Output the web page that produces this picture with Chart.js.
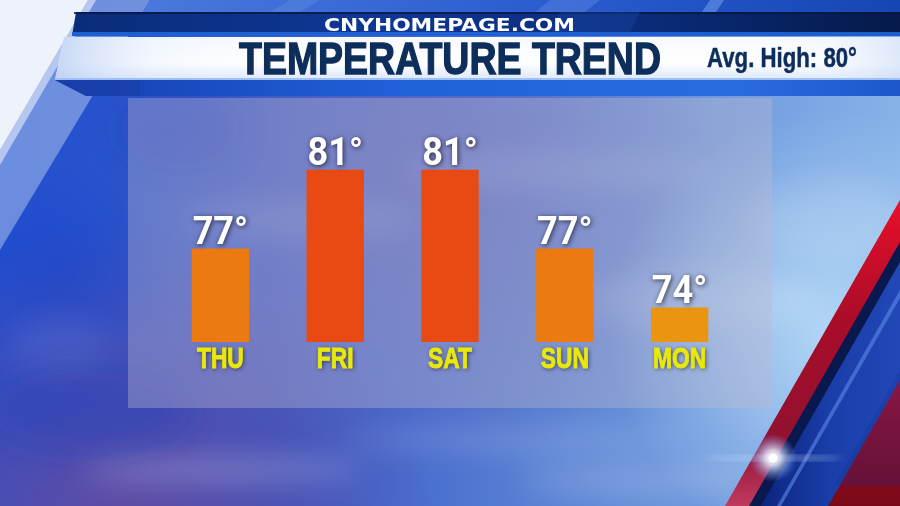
<!DOCTYPE html>
<html>
<head>
<meta charset="utf-8">
<script src="https://cdn.jsdelivr.net/npm/chart.js@4.4.1/dist/chart.umd.min.js"></script>
<style>
  html,body{margin:0;padding:0;}
  body{width:900px;height:506px;overflow:hidden;position:relative;background:#2f5ad0;}
  #bg{position:absolute;left:0;top:0;}
  .t{position:absolute;white-space:nowrap;line-height:1;transform-origin:0 0;}
  #site{font-family:"DejaVu Sans",sans-serif;font-weight:bold;font-size:18px;color:#fff;top:15.9px;left:324px;}
  #title{font-family:"Liberation Sans Narrow","Liberation Sans",sans-serif;font-weight:bold;font-size:44px;color:#0d2d5a;top:37px;left:239px;-webkit-text-stroke:1.3px #0d2d5a;}
  #avg{font-family:"Liberation Sans Narrow","Liberation Sans",sans-serif;font-weight:bold;font-size:28px;color:#0d2d5a;top:44.4px;left:707px;-webkit-text-stroke:0.5px #0d2d5a;}
  #wrap{position:absolute;left:128px;top:98px;width:644px;height:310px;}
</style>
</head>
<body>
<svg id="bg" width="900" height="506" viewBox="0 0 900 506">
  <defs>
    <linearGradient id="sky" x1="0" y1="0" x2="1" y2="0">
      <stop offset="0" stop-color="#2250d0"/>
      <stop offset="0.3" stop-color="#3458c8"/>
      <stop offset="0.65" stop-color="#6088d6"/>
      <stop offset="1" stop-color="#86b2e8"/>
    </linearGradient>
    <radialGradient id="glow" cx="830" cy="330" r="220" gradientUnits="userSpaceOnUse">
      <stop offset="0" stop-color="#b4d8f6" stop-opacity="0.95"/>
      <stop offset="1" stop-color="#b4d8f6" stop-opacity="0"/>
    </radialGradient>
    <radialGradient id="purp" cx="420" cy="180" r="300" gradientUnits="userSpaceOnUse">
      <stop offset="0" stop-color="#5a62bc" stop-opacity="0.8"/>
      <stop offset="1" stop-color="#5a62bc" stop-opacity="0"/>
    </radialGradient>
    <radialGradient id="botl" cx="120" cy="540" r="320" gradientUnits="userSpaceOnUse">
      <stop offset="0" stop-color="#6a4a9c" stop-opacity="0.9"/>
      <stop offset="1" stop-color="#6a4a9c" stop-opacity="0"/>
    </radialGradient>
    <radialGradient id="leftdeep" cx="60" cy="270" r="110" gradientUnits="userSpaceOnUse">
      <stop offset="0" stop-color="#1a40c8" stop-opacity="0.45"/>
      <stop offset="1" stop-color="#1a40c8" stop-opacity="0"/>
    </radialGradient>
    <linearGradient id="dark" x1="0" y1="0" x2="1" y2="0">
      <stop offset="0" stop-color="#0a2c7a"/>
      <stop offset="0.35" stop-color="#0e3794"/>
      <stop offset="0.7" stop-color="#0a2b78"/>
      <stop offset="1" stop-color="#051a4a"/>
    </linearGradient>
    <linearGradient id="white" x1="0" y1="0" x2="0" y2="1">
      <stop offset="0" stop-color="#f6f9ff"/>
      <stop offset="0.6" stop-color="#ffffff"/>
      <stop offset="1" stop-color="#dbe7fb"/>
    </linearGradient>
    <linearGradient id="whiteL" x1="0" y1="0" x2="1" y2="0">
      <stop offset="0" stop-color="#b8cdf2" stop-opacity="0.8"/>
      <stop offset="0.12" stop-color="#dfe9fb" stop-opacity="0.3"/>
      <stop offset="0.3" stop-color="#ffffff" stop-opacity="0"/>
      <stop offset="0.85" stop-color="#ffffff" stop-opacity="0"/>
      <stop offset="1" stop-color="#c8daf6" stop-opacity="0.6"/>
    </linearGradient>
    <linearGradient id="under" x1="0" y1="0" x2="1" y2="0">
      <stop offset="0" stop-color="#163eb0"/>
      <stop offset="0.4" stop-color="#2060d8"/>
      <stop offset="0.8" stop-color="#2a6ce0"/>
      <stop offset="1" stop-color="#1c58cc"/>
    </linearGradient>
    <linearGradient id="topband" x1="0" y1="0" x2="1" y2="0">
      <stop offset="0" stop-color="#4a78dc"/>
      <stop offset="0.5" stop-color="#2c5ed0"/>
      <stop offset="1" stop-color="#1646b4"/>
    </linearGradient>
    <linearGradient id="red1" x1="0" y1="0" x2="0" y2="1">
      <stop offset="0" stop-color="#e8102a"/>
      <stop offset="0.4" stop-color="#a80c28"/>
      <stop offset="0.8" stop-color="#901232"/>
      <stop offset="1" stop-color="#c03a60"/>
    </linearGradient>
    <linearGradient id="red2" x1="0" y1="0" x2="0" y2="1">
      <stop offset="0" stop-color="#b0102a"/>
      <stop offset="1" stop-color="#7a0818"/>
    </linearGradient>
    <linearGradient id="blueS" x1="0" y1="0" x2="1" y2="0">
      <stop offset="0" stop-color="#0c2480"/>
      <stop offset="0.5" stop-color="#1a3ea8"/>
      <stop offset="1" stop-color="#2248b8"/>
    </linearGradient>
    <radialGradient id="flare" cx="773" cy="458" r="24" gradientUnits="userSpaceOnUse">
      <stop offset="0" stop-color="#ffffff"/>
      <stop offset="0.3" stop-color="#e8f0ff" stop-opacity="0.85"/>
      <stop offset="1" stop-color="#6a9cff" stop-opacity="0"/>
    </radialGradient>
    <filter id="blur" x="-50%" y="-50%" width="200%" height="200%"><feGaussianBlur stdDeviation="14"/></filter>
    <filter id="blur2" x="-50%" y="-50%" width="200%" height="200%"><feGaussianBlur stdDeviation="3"/></filter>
  </defs>

  <rect x="0" y="0" width="900" height="506" fill="url(#sky)"/>
  <rect x="0" y="0" width="900" height="506" fill="url(#purp)"/>
  <rect x="0" y="0" width="900" height="506" fill="url(#glow)"/>
  <rect x="0" y="0" width="900" height="506" fill="url(#botl)"/>
  <rect x="0" y="0" width="900" height="506" fill="url(#leftdeep)"/>
  <g filter="url(#blur)" fill="#ffffff">
    <ellipse cx="220" cy="470" rx="140" ry="14" opacity="0.2"/>
    <ellipse cx="520" cy="440" rx="180" ry="10" opacity="0.16"/>
    <ellipse cx="640" cy="480" rx="120" ry="12" opacity="0.18"/>
    <ellipse cx="60" cy="345" rx="50" ry="30" opacity="0.07"/>
    <ellipse cx="300" cy="220" rx="120" ry="20" opacity="0.12"/>
    <ellipse cx="560" cy="170" rx="160" ry="18" opacity="0.12"/>
    <ellipse cx="700" cy="300" rx="120" ry="30" opacity="0.14"/>
    <ellipse cx="830" cy="220" rx="80" ry="40" opacity="0.12"/>
  </g>
  <g filter="url(#blur)" fill="#1a3ab8">
    <ellipse cx="90" cy="410" rx="100" ry="40" opacity="0.35"/>
    <ellipse cx="180" cy="130" rx="60" ry="40" opacity="0.3"/>
  </g>

  <polygon points="0,0 150,0 0,250" fill="#b6ccf0" opacity="0.5"/>
  <polygon points="0,0 88,0 0,150" fill="#eef2fa"/>
  <polygon points="0,150 88,0 96,0 0,165" fill="#ffffff" opacity="0.5"/>

  <polygon points="150,0 900,0 900,12 143,12" fill="url(#topband)"/>
  <polygon points="290,0 320,0 300,12 270,12" fill="#5a88e4" opacity="0.5"/>
  <polygon points="550,0 600,0 585,12 535,12" fill="#6a96ea" opacity="0.35"/>
  <polygon points="710,0 724,0 716,12 702,12" fill="#7aa4f0" opacity="0.5"/>

  <polygon points="76,12 900,12 900,36 72,36" fill="url(#dark)"/>
  <rect x="74" y="12" width="826" height="2" fill="#041640" opacity="0.8"/>
  <polygon points="72,32 900,32 900,36 72,36" fill="#1f66dc" opacity="0.9"/>
  <polygon points="560,12 640,12 630,32 550,32" fill="#1c4ab0" opacity="0.35"/>

  <polygon points="64,37 900,37 900,80 55,80" fill="url(#white)"/>
  <polygon points="64,37 900,37 900,80 55,80" fill="url(#whiteL)"/>
  <polygon points="55,78 900,78 900,80 55,80" fill="#9fc0f0"/>

  <polygon points="55,80 900,80 900,96 86,96" fill="url(#under)"/>
  <polygon points="55,80 140,80 140,96 86,96" fill="#1a3ea6" opacity="0.7"/>

  <polygon points="900,200 725,506 900,506" fill="url(#red1)"/>
  <polygon points="900,242 749,506 900,506" fill="#0a1850"/>
  <polygon points="900,262 761,506 900,506" fill="url(#blueS)"/>
  <polygon points="900,290 777,506 781,506 900,298" fill="#5a88e8" opacity="0.6"/>
  <polygon points="900,380 828,506 900,506" fill="url(#red2)"/>
  <polygon points="900,370 834,486 900,486" fill="#0e2c90" opacity="0.25"/>

  <g filter="url(#blur2)">
    <ellipse cx="773" cy="458" rx="70" ry="1.6" fill="#c8dcff" opacity="0.7"/>
  </g>
  <circle cx="773" cy="458" r="24" fill="url(#flare)"/>
  <circle cx="773" cy="458" r="4.5" fill="#ffffff"/>

  <rect x="128" y="98" width="644" height="310" fill="#bdb8cc" opacity="0.38"/>
</svg>

<div class="t" id="site">CNYHOMEPAGE.COM</div>
<div class="t" id="title">TEMPERATURE TREND</div>
<div class="t" id="avg">Avg. High: 80°</div>

<div id="wrap"><canvas id="c" width="644" height="310"></canvas></div>

<script>
// ---- data ----
const days = ["THU", "FRI", "SAT", "SUN", "MON"];
const highs = [77, 81, 81, 77, 74];
const valueLabels = ["77°", "81°", "81°", "77°", "74°"];
const barColors = ["#ec7a12", "#e94a13", "#e94a13", "#ec7a12", "#ea9511"];

// ---- fit header text widths ----
function fitText(id, width) {
  const el = document.getElementById(id);
  el.style.transform = "none";
  const w = el.getBoundingClientRect().width;
  el.style.transform = "scaleX(" + (width / w) + ")";
}
function fitAll() {
  fitText("site", 251);
  fitText("title", 422);
  fitText("avg", 150);
}
fitAll();
if (document.fonts && document.fonts.ready) document.fonts.ready.then(fitAll);

// ---- plugins ----
// axis tick labels: shadow + horizontal condensing (text is still drawn by the axis)
const tickStyle = {
  id: "tickStyle",
  beforeDraw(chart) {
    const ctx = chart.ctx;
    ctx.shadowColor = "rgba(20,20,40,0.75)";
    ctx.shadowBlur = 4;
    ctx.shadowOffsetX = 1;
    ctx.shadowOffsetY = 1;
    ctx.fillText = function (t, x, y, mw) {
      this.save();
      this.translate(x, y);
      this.scale(0.76, 1);
      CanvasRenderingContext2D.prototype.fillText.call(this, t, 0, 0);
      this.shadowColor = "rgba(0,0,0,0)";
      this.strokeStyle = this.fillStyle;
      this.lineWidth = 1;
      this.strokeText(t, 0, 0);
      this.restore();
    };
  },
  beforeDatasetsDraw(chart) {
    const ctx = chart.ctx;
    delete ctx.fillText;
    ctx.shadowColor = "rgba(0,0,0,0)";
    ctx.shadowBlur = 0;
    ctx.shadowOffsetX = 0;
    ctx.shadowOffsetY = 0;
  }
};
const valueLabelPlugin = {
  id: "valueLabels",
  afterDatasetsDraw(chart) {
    const ctx = chart.ctx;
    const meta = chart.getDatasetMeta(0);
    ctx.save();
    ctx.font = "bold 38px Roboto, 'Liberation Sans', sans-serif";
    ctx.textAlign = "center";
    ctx.textBaseline = "alphabetic";
    ctx.fillStyle = "#ffffff";
    ctx.shadowColor = "rgba(20,20,30,0.8)";
    ctx.shadowBlur = 5;
    ctx.shadowOffsetX = 1;
    ctx.shadowOffsetY = 1;
    meta.data.forEach((bar, i) => {
      ctx.save();
      ctx.translate(bar.x, bar.y - 4.5);
      ctx.scale(0.95, 1);
      ctx.fillText(valueLabels[i], 0, 0);
      ctx.restore();
    });
    ctx.restore();
  }
};

new Chart(document.getElementById("c"), {
  type: "bar",
  data: {
    labels: days,
    datasets: [{
      data: highs,
      backgroundColor: barColors,
      borderWidth: 0,
      barPercentage: 0.5,
      categoryPercentage: 1.0
    }]
  },
  options: {
    responsive: false,
    animation: false,
    devicePixelRatio: 1,
    layout: { padding: { left: 35, right: 35, top: 0, bottom: 30 } },
    plugins: { legend: { display: false }, tooltip: { enabled: false } },
    scales: {
      y: { display: false, min: 72.25, max: 84.65 },
      x: {
        grid: { display: false, drawTicks: false },
        border: { display: false },
        ticks: {
          color: "#e8e80a",
          padding: 0,
          font: { family: "'Liberation Sans', sans-serif", weight: "bold", size: 30, lineHeight: 1.2 }
        }
      }
    }
  },
  plugins: [tickStyle, valueLabelPlugin]
});
</script>
</body>
</html>
